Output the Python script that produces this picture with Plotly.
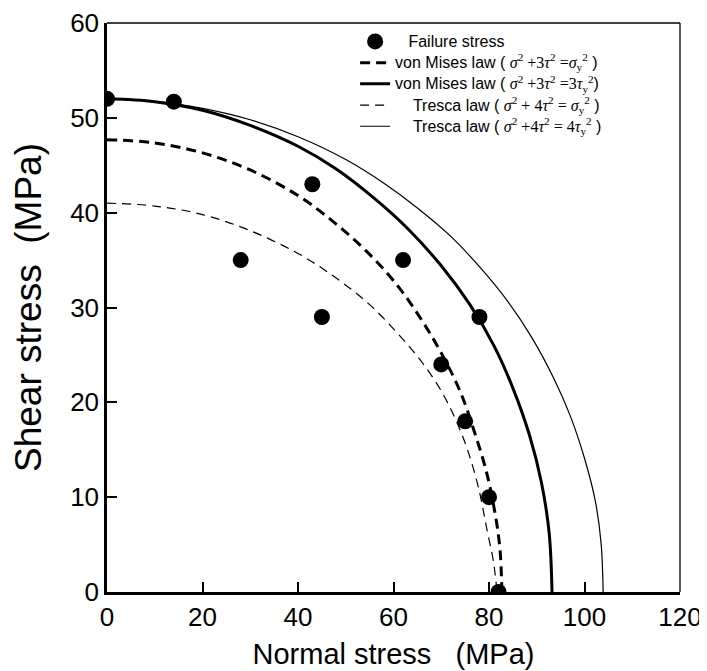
import plotly.graph_objects as go

# Failure stress data (Normal stress, Shear stress) in MPa
fail_x = [0, 14, 28, 43, 45, 62, 78, 70, 75, 80, 82]
fail_y = [52, 51.7, 35, 43, 29, 35, 29, 24, 18, 10, 0]

# von Mises law (sigma^2 + 3 tau^2 = sigma_y^2)
vm1_x = [0, 10, 20, 30, 40, 48, 55, 61, 66, 70, 74, 77, 79.5, 81.3, 82.3, 82.7]
vm1_y = [47.7, 47.35, 46.3, 44.5, 41.8, 38.8, 35.6, 32.2, 28.6, 25.2, 21.1, 16.8, 12.6, 8.2, 4.5, 0]

# von Mises law (sigma^2 + 3 tau^2 = 3 tau_y^2)
vm2_x = [0, 10, 20, 30, 40, 48, 56, 63, 70, 76, 81, 85, 88.5, 91, 92.6, 93.2]
vm2_y = [52, 51.7, 50.8, 49.2, 47, 44.6, 41.5, 38.3, 34.4, 30.3, 26, 21.5, 16.5, 11.5, 6.2, 0]

# Tresca law (sigma^2 + 4 tau^2 = sigma_y^2)
tr1_x = [0, 10, 20, 30, 40, 48, 55, 61, 66, 70, 73, 75.5, 77.8, 79.6, 80.9, 81.7]
tr1_y = [41, 40.7, 39.8, 38.1, 35.7, 33.1, 30.3, 27.2, 24.2, 21.2, 18.2, 15, 11, 6.5, 3.3, 0]

# Tresca law (sigma^2 + 4 tau^2 = 4 tau_y^2)
tr2_x = [0, 10, 20, 30, 40, 50, 58, 65, 72, 78, 84, 89, 93.5, 97, 100, 102.3, 103.5, 103.9]
tr2_y = [52, 51.75, 51.0, 49.8, 48, 45.6, 43.1, 40.5, 37.5, 34.3, 30.6, 26.8, 22.6, 18.6, 14.1, 9.5, 5, 0]

x_ticks = [0, 20, 40, 60, 80, 100, 120]
y_ticks = [0, 10, 20, 30, 40, 50, 60]

FONT = "Liberation Sans, Arial, Helvetica, sans-serif"
SERIF = "Liberation Serif"
NB = "\u00a0"


def m(s):
    return '<span style="font-family:%s">%s</span>' % (SERIF, s)


def big(s):
    return '<span style="font-size:16px">%s</span>' % s


names = [
    big(NB * 3 + "Failure stress"),
    big("von Mises law ( " + m("<i>σ</i><sup>2</sup> +3<i>τ</i><sup>2</sup> =<i>σ</i><sub>y</sub><sup>2</sup>") + " )"),
    big("von Mises law ( " + m("<i>σ</i><sup>2</sup> +3<i>τ</i><sup>2</sup> =3<i>τ</i><sub>y</sub><sup>2</sup>") + ")"),
    big(NB * 4 + "Tresca law ( " + m("<i>σ</i><sup>2</sup> + 4<i>τ</i><sup>2</sup> = <i>σ</i><sub>y</sub><sup>2</sup>") + " )"),
    big(NB * 4 + "Tresca law ( " + m("<i>σ</i><sup>2</sup> +4<i>τ</i><sup>2</sup> = 4<i>τ</i><sub>y</sub><sup>2</sup>") + " )"),
]

fig = go.Figure()
fig.add_trace(go.Scatter(x=fail_x, y=fail_y, mode="markers", name=names[0],
                         marker=dict(color="black", size=16)))
fig.add_trace(go.Scatter(x=vm1_x, y=vm1_y, mode="lines", line_shape="spline", name=names[1],
                         line=dict(color="black", width=3, dash="10px,6px")))
fig.add_trace(go.Scatter(x=vm2_x, y=vm2_y, mode="lines", line_shape="spline", name=names[2],
                         line=dict(color="black", width=3)))
fig.add_trace(go.Scatter(x=tr1_x, y=tr1_y, mode="lines", line_shape="spline", name=names[3],
                         line=dict(color="black", width=1.2, dash="9px,6px")))
fig.add_trace(go.Scatter(x=tr2_x, y=tr2_y, mode="lines", line_shape="spline", name=names[4],
                         line=dict(color="black", width=1.2)))

fig.update_layout(
    width=699, height=663,
    margin=dict(l=99, r=27, t=15, b=79),
    paper_bgcolor="white", plot_bgcolor="white",
    font=dict(family=FONT, color="black", size=26),
    showlegend=True,
    legend=dict(x=0.433, y=0.995, xanchor="left", yanchor="top",
                bgcolor="rgba(0,0,0,0)", borderwidth=0,
                font=dict(size=14, family=FONT), tracegroupgap=0),
    xaxis=dict(range=[0, 120], tickvals=x_ticks, ticks="inside", ticklen=10,
               tickwidth=1.5, tickcolor="black", showgrid=False, zeroline=False,
               showline=True, linecolor="black", linewidth=2.5,
               tickfont=dict(size=26), automargin=False,
               title=dict(text="Normal stress" + NB * 3 + "(MPa)", font=dict(size=29), standoff=13)),
    yaxis=dict(range=[0, 60], tickvals=y_ticks, ticks="inside", ticklen=10,
               tickwidth=1.5, tickcolor="black", showgrid=False, zeroline=False,
               showline=True, linecolor="black", linewidth=2.5,
               tickfont=dict(size=26), automargin=False,
               title=dict(text=NB * 2 + "Shear stress" + NB * 2 + "(MPa)", font=dict(size=37), standoff=21)),
    shapes=[
        dict(type="line", xref="paper", yref="paper", x0=0, x1=1, y0=1, y1=1,
             line=dict(color="black", width=1.3)),
        dict(type="line", xref="paper", yref="paper", x0=1, x1=1, y0=0, y1=1,
             line=dict(color="black", width=1.3)),
    ],
)

fig.write_html("out.html")
